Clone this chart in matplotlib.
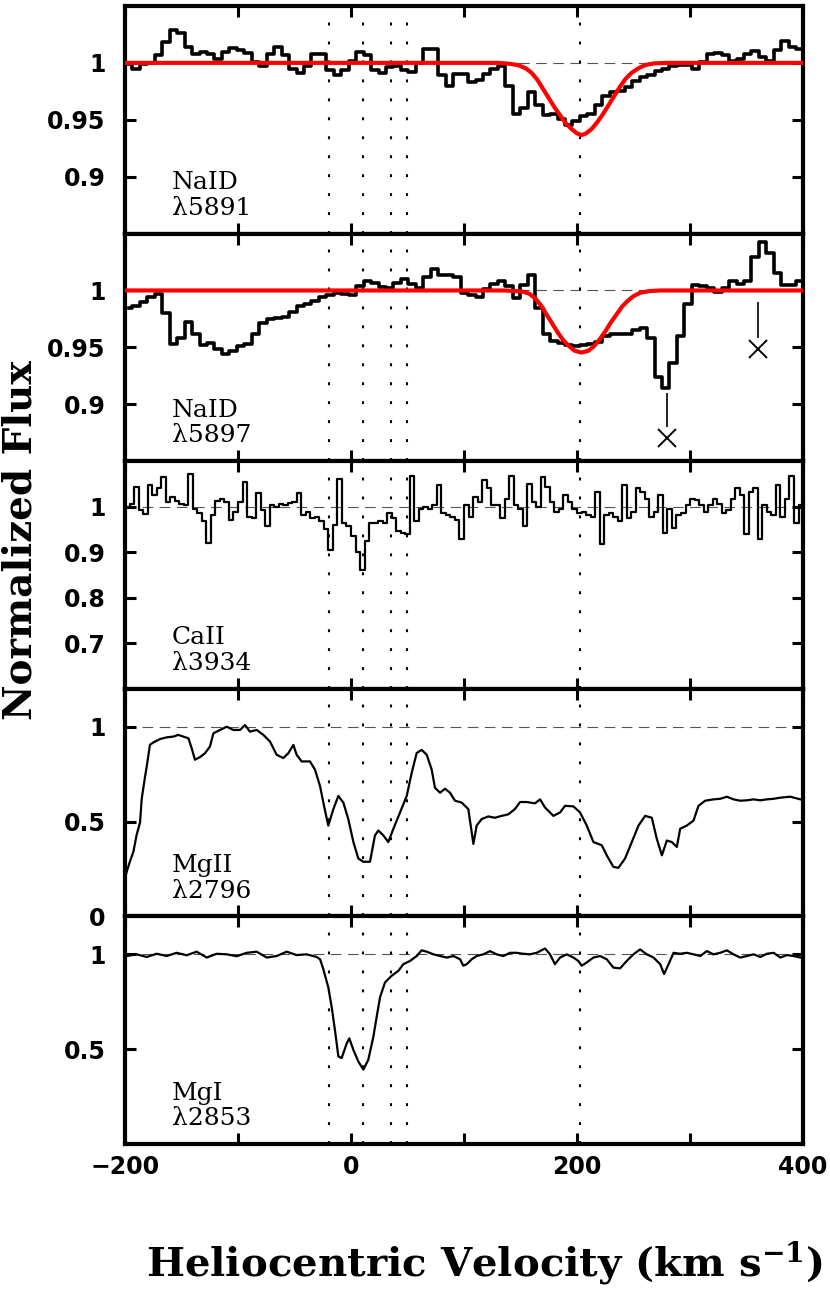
#!/usr/bin/env python3
"""Stacked absorption-line velocity plots (NaI, CaII, MgII, MgI)."""

import numpy as np
import matplotlib
matplotlib.use("Agg")
import matplotlib.pyplot as plt

plt.rcParams["mathtext.fontset"] = "dejavuserif"

# ---------------------------------------------------------------- data
# common x range / velocity markers
VEL_MIN, VEL_MAX = -200, 400
comp_vel = [-19.5, 10.5, 35.5, 49.5, 203]
xtick_vals = [-200, -100, 0, 100, 200, 300, 400]
xtick_text = ["\u2212200", "", "0", "", "200", "", "400"]

# NaI spectra: 6.6 km/s bins starting at -200
nai_start, nai_dv = -200.0, 6.6
nai5891_flux = [
    0.999, 0.995, 0.999, 1.000, 1.007, 1.018, 1.029, 1.026, 1.014, 1.008,
    1.0096, 1.0076, 1.003, 1.0096, 1.0134, 1.011, 1.009, 1.001, 0.997, 1.0076,
    1.014, 1.0067, 0.995, 0.991, 0.997, 1.008, 1.008, 0.994, 0.989, 0.994,
    1.002, 1.0096, 1.007, 0.994, 0.991, 0.996, 0.997, 0.994, 0.992, 1.000,
    1.0125, 1.0125, 0.989, 0.980, 0.990, 0.990, 0.983, 0.985, 0.990, 0.995,
    0.997, 0.980, 0.955, 0.960, 0.974, 0.963, 0.954, 0.955, 0.951, 0.945,
    0.949, 0.9535, 0.955, 0.963, 0.971, 0.974, 0.975, 0.979, 0.984, 0.988,
    0.989, 0.993, 0.995, 0.997, 0.998, 0.998, 0.995, 1.001, 1.0076, 1.009,
    1.007, 1.002, 1.003, 1.008, 1.010, 1.005, 1.002, 1.011, 1.019, 1.014,
    1.0125,
]
nai5897_flux = [
    0.985, 0.986, 0.990, 0.994, 0.997, 0.980, 0.953, 0.958, 0.972, 0.962,
    0.952, 0.954, 0.949, 0.944, 0.947, 0.951, 0.953, 0.962, 0.971, 0.975,
    0.976, 0.977, 0.981, 0.986, 0.988, 0.991, 0.994, 0.996, 0.998, 0.997,
    0.996, 1.004, 1.008, 1.007, 1.003, 1.002, 1.007, 1.010, 1.006, 1.002,
    1.0115, 1.019, 1.014, 1.014, 1.012, 0.998, 0.996, 0.994, 1.001, 1.006,
    1.008, 1.004, 0.993, 1.005, 1.014, 0.985, 0.962, 0.956, 0.954, 0.952,
    0.951, 0.952, 0.953, 0.955, 0.960, 0.962, 0.962, 0.962, 0.965, 0.967,
    0.958, 0.924, 0.914, 0.936, 0.960, 0.988, 1.005, 1.004, 1.002, 0.999,
    1.002, 1.008, 1.006, 1.008, 1.029, 1.043, 1.033, 1.015, 1.005, 1.005,
    1.008,
]

# Gaussian fits (red)
fit5891_vel = [
    -200, 130, 140, 148, 155, 160, 165, 170, 175, 180, 185, 190, 195, 200,
    204, 208, 213, 218, 223, 228, 233, 238, 243, 248, 254, 260, 268, 280, 400,
]
fit5891_flux = [
    1.0, 1.0, 0.9992, 0.998, 0.995, 0.991, 0.985, 0.977, 0.969, 0.961,
    0.954, 0.947, 0.942, 0.938, 0.9365, 0.938, 0.942, 0.948, 0.955, 0.963,
    0.971, 0.979, 0.986, 0.991, 0.995, 0.998, 0.9995, 1.0, 1.0,
]
fit5897_vel = [
    -200, 135, 145, 152, 158, 163, 168, 173, 178, 183, 188, 193, 198, 204,
    210, 215, 220, 225, 230, 235, 240, 245, 250, 256, 264, 275, 400,
]
fit5897_flux = [
    1.0, 1.0, 0.9995, 0.999, 0.997, 0.993, 0.987, 0.979, 0.971, 0.963,
    0.956, 0.951, 0.947, 0.9455, 0.947, 0.951, 0.957, 0.964, 0.972, 0.979,
    0.986, 0.991, 0.995, 0.998, 0.9995, 1.0, 1.0,
]

# contaminating features marked with crosses in NaI 5897
cross_vel = [280, 360]
cross_flux = [0.870, 0.949]
cross_tick_top = [0.910, 0.990]
cross_tick_bot = [0.880, 0.9585]

# CaII: 4 km/s bins starting at -200
caii_start, caii_dv = -200.0, 4.0
caii_flux = [
    1.000, 1.005, 1.043, 0.993, 0.983, 1.048, 1.025, 1.040, 1.065, 1.011,
    1.022, 1.012, 1.007, 1.004, 1.072, 0.996, 0.986, 0.968, 0.921, 0.982,
    1.012, 1.017, 1.011, 0.971, 0.989, 1.011, 1.054, 0.978, 0.975, 1.029,
    0.993, 0.957, 1.004, 1.000, 1.005, 1.004, 1.009, 1.011, 1.029, 0.982,
    0.989, 0.975, 0.978, 0.968, 0.950, 0.905, 0.960, 1.060, 0.964, 0.957,
    0.935, 0.900, 0.862, 0.925, 0.964, 0.964, 0.968, 0.964, 0.986, 0.975,
    0.946, 0.942, 0.939, 1.068, 0.968, 0.996, 1.000, 0.996, 1.004, 1.047,
    0.986, 0.982, 0.978, 0.971, 0.928, 1.004, 0.978, 1.022, 1.011, 1.058,
    1.040, 1.004, 1.004, 0.975, 1.018, 1.068, 1.004, 0.996, 0.957, 1.050,
    1.011, 1.000, 1.065, 1.043, 1.011, 0.989, 0.996, 1.025, 1.011, 0.996,
    0.986, 0.989, 0.982, 0.978, 1.032, 0.917, 0.982, 0.986, 0.978, 0.968,
    1.047, 0.975, 0.989, 1.040, 1.032, 1.018, 0.978, 0.989, 1.025, 0.942,
    0.996, 0.953, 0.982, 0.986, 1.004, 1.018, 1.014, 1.004, 0.989, 1.004,
    1.018, 1.007, 0.986, 0.993, 1.018, 1.040, 1.025, 0.939, 1.032, 1.040,
    0.928, 1.004, 0.989, 0.982, 1.047, 0.978, 1.018, 1.068, 0.964, 1.004,
    0.989,
]

# MgII 2796 (velocity, flux)
mgii_vel = [
    -200, -198.5, -195.6, -192.6, -189.7, -186.7, -185.2, -183.2, -180.8,
    -177.9, -174.9, -169.0, -163.1, -157.2, -152.8, -148.4, -143.9, -141.0,
    -138.1, -133.6, -129.2, -124.8, -121.8, -115.9, -110.0, -104.1, -98.2,
    -93.8, -89.4, -83.5, -77.6, -71.7, -65.8, -59.9, -55.5, -51.0, -48.1,
    -43.7, -36.3, -31.9, -27.4, -23.9, -20.1, -15.6, -11.2, -6.8, -2.4, 2.1,
    6.5, 10.9, 16.8, 21.2, 24.2, 28.6, 33.0, 37.5, 43.4, 49.3, 53.7, 58.1,
    62.5, 67.0, 71.4, 74.3, 78.8, 83.2, 87.6, 92.0, 97.9, 103.8, 108.3,
    111.2, 115.6, 121.5, 127.4, 133.3, 139.2, 145.1, 149.6, 155.5, 162.8,
    167.3, 171.7, 179.1, 185.0, 189.4, 196.8, 202.7, 208.6, 214.5, 221.9,
    226.3, 232.2, 236.6, 242.5, 248.5, 254.4, 260.3, 266.2, 270.6, 275.1,
    279.5, 283.9, 288.3, 291.3, 297.2, 303.1, 307.5, 313.4, 320.8, 326.7,
    332.6, 338.5, 344.4, 350.3, 356.3, 362.2, 368.1, 374.0, 379.9, 388.8,
    397.6, 400,
]
mgii_flux = [
    0.20, 0.235, 0.29, 0.34, 0.43, 0.495, 0.62, 0.70, 0.79, 0.905, 0.917,
    0.935, 0.944, 0.948, 0.957, 0.948, 0.939, 0.887, 0.826, 0.84, 0.86,
    0.896, 0.965, 0.983, 1.0, 0.983, 0.983, 1.009, 0.974, 0.983, 0.957,
    0.922, 0.852, 0.835, 0.86, 0.904, 0.852, 0.817, 0.817, 0.774, 0.687,
    0.583, 0.479, 0.566, 0.635, 0.60, 0.513, 0.392, 0.305, 0.288, 0.288,
    0.427, 0.453, 0.427, 0.392, 0.462, 0.548, 0.635, 0.757, 0.861, 0.878,
    0.852, 0.774, 0.678, 0.652, 0.673, 0.652, 0.61, 0.60, 0.566, 0.382,
    0.479, 0.513, 0.527, 0.52, 0.53, 0.538, 0.566, 0.603, 0.603, 0.596,
    0.617, 0.574, 0.53, 0.548, 0.583, 0.58, 0.548, 0.479, 0.392, 0.375,
    0.322, 0.261, 0.256, 0.305, 0.392, 0.479, 0.53, 0.52, 0.409, 0.322,
    0.40, 0.392, 0.366, 0.462, 0.479, 0.505, 0.583, 0.61, 0.617, 0.62,
    0.631, 0.617, 0.61, 0.612, 0.617, 0.612, 0.617, 0.62, 0.626, 0.631,
    0.617, 0.615,
]

# MgI 2853 (velocity, flux), rows of ten
mgi_vel = [
    -200, -198.5, -189.7, -180.8, -172.0, -163.1, -154.3, -145.4, -136.6, -127.7,
    -118.9, -110.0, -101.2, -92.3, -83.5, -74.6, -65.8, -56.9, -48.1, -39.2,
    -30.4, -27.4, -24.5, -20.1, -17.1, -14.2, -11.2, -8.3, -3.8, -1.5,
    2.1, 6.5, 10.9, 15.3, 19.8, 22.7, 25.7, 30.1, 36.0, 41.9,
    46.3, 52.2, 58.1, 62.5, 67.0, 72.9, 78.8, 84.7, 90.6, 96.5,
    99.4, 102.4, 106.8, 111.2, 117.1, 123.0, 128.9, 134.8, 140.7, 146.6,
    152.5, 158.4, 164.3, 171.7, 176.1, 180.5, 185.0, 190.9, 196.8, 201.2,
    204.1, 208.6, 214.5, 220.4, 226.3, 232.2, 238.1, 244.0, 249.9, 255.8,
    261.7, 267.7, 273.6, 277.1, 281.0, 285.4, 291.3, 297.2, 303.1, 309.0,
    314.9, 320.8, 326.7, 332.6, 338.5, 344.4, 350.3, 356.3, 362.2, 368.1,
    374.0, 379.9, 385.8, 391.7, 397.6, 400,
]
mgi_flux = [
    0.99, 0.991, 1.0, 0.986, 1.003, 0.991, 1.008, 0.995, 1.014, 0.983,
    1.003, 1.0, 0.99, 1.008, 1.014, 0.983, 0.991, 1.014, 0.996, 1.0,
    0.986, 0.974, 0.922, 0.826, 0.722, 0.60, 0.462, 0.453, 0.53, 0.557,
    0.496, 0.435, 0.392, 0.444, 0.566, 0.67, 0.774, 0.852, 0.887, 0.913,
    0.948, 0.965, 0.991, 1.021, 1.014, 1.0, 0.991, 0.983, 0.991, 0.974,
    0.94, 0.948, 0.974, 0.991, 1.0, 1.017, 1.0, 0.991, 1.008, 1.008,
    1.003, 1.0, 1.008, 1.031, 1.0, 0.948, 0.983, 1.0, 0.983, 0.965,
    0.94, 0.957, 0.983, 0.991, 0.974, 0.93, 0.926, 0.965, 1.0, 1.026,
    1.0, 0.983, 0.948, 0.896, 0.948, 1.008, 1.003, 1.008, 1.0, 0.991,
    1.017, 1.0, 1.008, 1.021, 1.0, 0.983, 0.991, 1.0, 0.986, 1.003,
    1.008, 0.983, 0.996, 0.991, 0.983, 0.985,
]

# panel settings
panel_names = ["NaID", "NaID", "CaII", "MgII", "MgI"]
panel_waves = ["\u03bb5891", "\u03bb5897", "\u03bb3934", "\u03bb2796", "\u03bb2853"]
panel_ylims = [(0.85, 1.05), (0.85, 1.05), (0.6, 1.1), (0.0, 1.2), (0.0, 1.2)]
panel_yticks = [
    [0.9, 0.95, 1.0],
    [0.9, 0.95, 1.0],
    [0.7, 0.8, 0.9, 1.0],
    [0.0, 0.5, 1.0],
    [0.5, 1.0],
]
panel_yticklabels = [
    ["0.9", "0.95", "1"],
    ["0.9", "0.95", "1"],
    ["0.7", "0.8", "0.9", "1"],
    ["0", "0.5", "1"],
    ["0.5", "1"],
]


def bin_centers(start, dv, n):
    """Centres of uniform velocity bins."""
    return start + dv * (np.arange(n) + 0.5)


def style_axis(ax, idx):
    """Box, ticks and labels in the PGPLOT look."""
    ax.set_xlim(VEL_MIN, VEL_MAX)
    ax.set_ylim(*panel_ylims[idx])
    ax.set_xticks(xtick_vals)
    if idx == 4:
        ax.set_xticklabels(xtick_text)
    else:
        ax.set_xticklabels([])
    ax.set_yticks(panel_yticks[idx])
    ax.set_yticklabels(panel_yticklabels[idx])
    ax.tick_params(axis="both", which="major", direction="in", length=8,
                   width=2.2, top=True, right=True, labelsize=17)
    ax.tick_params(axis="y", pad=14)
    ax.tick_params(axis="x", pad=8)
    for lab in ax.get_xticklabels() + ax.get_yticklabels():
        lab.set_fontfamily("DejaVu Sans")
        lab.set_fontweight("bold")
    for sp in ax.spines.values():
        sp.set_linewidth(3)

    # continuum level and component velocities
    ax.axhline(1.0, color="#555555", lw=0.8, ls=(0, (9.6, 5.8)), zorder=1)
    for v in comp_vel:
        ax.axvline(v, color="black", lw=1.5, ls=(0, (1.4, 7.7)), zorder=1)

    ax.text(0.069, 0.195, panel_names[idx], transform=ax.transAxes,
            fontsize=18, fontfamily="DejaVu Serif", ha="left", va="baseline")
    ax.text(0.069, 0.083, panel_waves[idx], transform=ax.transAxes,
            fontsize=18, fontfamily="DejaVu Serif", ha="left", va="baseline")


def main():
    fig = plt.figure(figsize=(8.3, 12.95), dpi=100)
    gs = fig.add_gridspec(5, 1, left=0.1506, right=0.9675, top=0.9954,
                          bottom=0.1166, hspace=0)
    axes = [fig.add_subplot(gs[i]) for i in range(5)]

    # NaI 5891
    ax = axes[0]
    x = bin_centers(nai_start, nai_dv, len(nai5891_flux))
    ax.plot(x, nai5891_flux, drawstyle="steps-mid", color="black", lw=2.6,
            zorder=2)
    ax.plot(fit5891_vel, fit5891_flux, color="red", lw=3, zorder=3)

    # NaI 5897
    ax = axes[1]
    x = bin_centers(nai_start, nai_dv, len(nai5897_flux))
    ax.plot(x, nai5897_flux, drawstyle="steps-mid", color="black", lw=2.6,
            zorder=2)
    ax.plot(fit5897_vel, fit5897_flux, color="red", lw=3, zorder=3)
    ax.plot(cross_vel, cross_flux, ls="none", marker="x", ms=13, mew=1.4,
            color="black", zorder=4)
    ax.vlines(cross_vel, cross_tick_bot, cross_tick_top, color="black",
              lw=1.2, zorder=4)

    # CaII 3934
    ax = axes[2]
    x = bin_centers(caii_start, caii_dv, len(caii_flux))
    ax.plot(x, caii_flux, drawstyle="steps-mid", color="black", lw=1.6,
            zorder=2)

    # MgII 2796
    axes[3].plot(mgii_vel, mgii_flux, color="black", lw=1.6, zorder=2)

    # MgI 2853
    axes[4].plot(mgi_vel, mgi_flux, color="black", lw=1.6, zorder=2)

    for i, ax in enumerate(axes):
        style_axis(ax, i)

    fig.text(0.025, 0.583, "Normalized Flux", rotation=90, ha="center",
             va="center", fontsize=28, fontfamily="DejaVu Serif",
             fontweight="bold")
    fig.text(0.584, 0.0247, r"Heliocentric Velocity (km s$^{\mathbf{-1}}$)",
             ha="center", va="center", fontsize=29, fontfamily="DejaVu Serif",
             fontweight="bold")

    fig.savefig("out.png", dpi=100)
    plt.close(fig)


if __name__ == "__main__":
    main()
